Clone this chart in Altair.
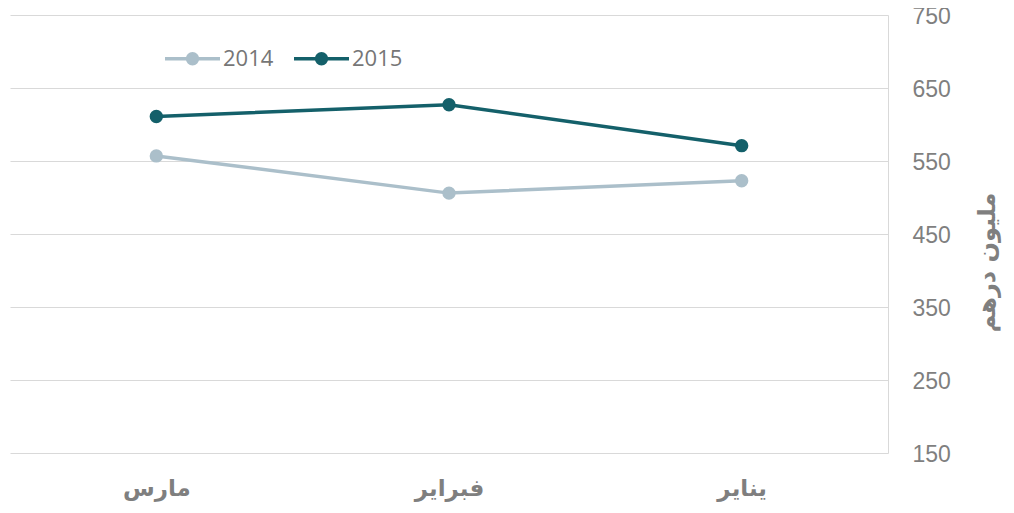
import altair as alt
import pandas as pd

months = ["مارس", "فبراير", "يناير"]
years = ["2014", "2015"]
values_2014 = [557, 506, 523]
values_2015 = [611, 627, 571]
y_ticks = [150, 250, 350, 450, 550, 650, 750]
colors = ["#abbfca", "#14606a"]

rows = []
for m, v in zip(months, values_2014):
    rows.append({"month": m, "year": "2014", "value": v})
for m, v in zip(months, values_2015):
    rows.append({"month": m, "year": "2015", "value": v})
df = pd.DataFrame(rows)

grey = "#7f7f7f"
x_enc = alt.X(
    "month:N",
    sort=months,
    scale=alt.Scale(padding=0.5),
    axis=alt.Axis(
        title=None,
        labelAngle=0,
        domain=False,
        ticks=False,
        grid=False,
        labelFont="DejaVu Sans",
        labelFontWeight="bold",
        labelFontSize=23,
        labelColor=grey,
        labelPadding=24,
    ),
)
y_enc = alt.Y(
    "value:Q",
    scale=alt.Scale(domain=[150, 750], nice=False, zero=False),
    axis=alt.Axis(
        orient="right",
        values=y_ticks,
        title="مليون درهم",
        titleFont="DejaVu Sans",
        titleFontWeight="bold",
        titleFontSize=24,
        titleColor=grey,
        titleAngle=270,
        titleAlign="center",
        titleBaseline="middle",
        titleX=99,
        titleY=247,
        labelFont="Liberation Sans",
        labelFontSize=23,
        labelOffset=1.5,
        labelColor=grey,
        labelPadding=24,
        ticks=False,
        domain=True,
        domainColor="#d9d9d9",
        domainWidth=1,
        grid=True,
        gridColor="#d9d9d9",
        gridWidth=1,
    ),
)

scale = alt.Scale(domain=years, range=colors)

base = alt.Chart(df)
line_layers = []
for yr, col in zip(years, colors):
    line_layers.append(
        base.transform_filter(alt.datum.year == yr)
        .mark_line(strokeWidth=3.5, color=col)
        .encode(x=x_enc, y=y_enc)
    )

leg = alt.Legend(
    title=None,
    orient="none",
    direction="horizontal",
    legendX=153,
    legendY=14,
    padding=0,
    symbolType="M-1,0L1,0M0.18,0A0.18,0.18,0,1,1,-0.18,0A0.18,0.18,0,1,1,0.18,0Z",
    symbolSize=3025,
    symbolStrokeWidth=3.5,
    labelFont="Open Sans",
    labelFontSize=22,
    labelColor="#767676",
    labelOffset=1,
    columnPadding=13,
)

points = base.mark_point(filled=True, size=130, opacity=1).encode(
    x=x_enc,
    y=y_enc,
    fill=alt.Fill("year:N", scale=scale, legend=leg),
    stroke=alt.Stroke("year:N", scale=scale, legend=leg),
)

chart = alt.layer(*line_layers, points).properties(
    width=878,
    height=438,
    autosize=alt.AutoSizeParams(type="none"),
    padding={"left": 2, "top": 7, "right": 118, "bottom": 52},
    background="white",
).configure_view(stroke=None)

chart.save("out.html", embed_options={"renderer": "svg", "actions": False})
